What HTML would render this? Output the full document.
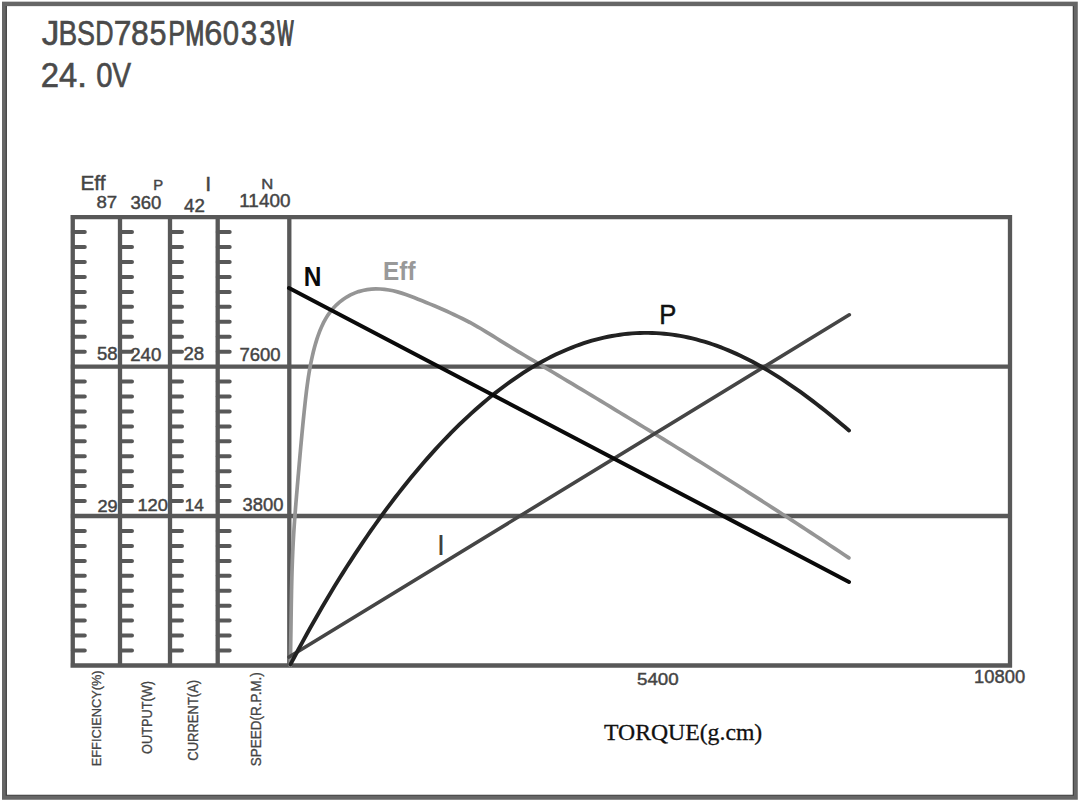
<!DOCTYPE html>
<html><head><meta charset="utf-8"><style>
html,body{margin:0;padding:0;background:#fff;}
body{width:1080px;height:805px;overflow:hidden;}
svg{display:block;font-family:"Liberation Sans",sans-serif;}
</style></head><body>
<svg width="1080" height="805" viewBox="0 0 1080 805">
<rect x="4.25" y="3.9" width="1071.3" height="793.6" fill="none" stroke="#666" stroke-width="4.5"/>
<path d="M6.3,6V795.3H1073.3V6" fill="none" stroke="#383838" stroke-width="1.1"/>
<path d="M72.8,232.1h12 M120.0,232.1h12 M170.0,232.1h12 M217.7,232.1h12 M72.8,247.1h12 M120.0,247.1h12 M170.0,247.1h12 M217.7,247.1h12 M72.8,262.0h12 M120.0,262.0h12 M170.0,262.0h12 M217.7,262.0h12 M72.8,277.0h12 M120.0,277.0h12 M170.0,277.0h12 M217.7,277.0h12 M72.8,291.9h12 M120.0,291.9h12 M170.0,291.9h12 M217.7,291.9h12 M72.8,306.8h12 M120.0,306.8h12 M170.0,306.8h12 M217.7,306.8h12 M72.8,321.8h12 M120.0,321.8h12 M170.0,321.8h12 M217.7,321.8h12 M72.8,336.7h12 M120.0,336.7h12 M170.0,336.7h12 M217.7,336.7h12 M72.8,351.7h12 M120.0,351.7h12 M170.0,351.7h12 M217.7,351.7h12 M72.8,381.5h12 M120.0,381.5h12 M170.0,381.5h12 M217.7,381.5h12 M72.8,396.5h12 M120.0,396.5h12 M170.0,396.5h12 M217.7,396.5h12 M72.8,411.4h12 M120.0,411.4h12 M170.0,411.4h12 M217.7,411.4h12 M72.8,426.4h12 M120.0,426.4h12 M170.0,426.4h12 M217.7,426.4h12 M72.8,441.3h12 M120.0,441.3h12 M170.0,441.3h12 M217.7,441.3h12 M72.8,456.2h12 M120.0,456.2h12 M170.0,456.2h12 M217.7,456.2h12 M72.8,471.2h12 M120.0,471.2h12 M170.0,471.2h12 M217.7,471.2h12 M72.8,486.1h12 M120.0,486.1h12 M170.0,486.1h12 M217.7,486.1h12 M72.8,501.1h12 M120.0,501.1h12 M170.0,501.1h12 M217.7,501.1h12 M72.8,531.0h12 M120.0,531.0h12 M170.0,531.0h12 M217.7,531.0h12 M72.8,545.9h12 M120.0,545.9h12 M170.0,545.9h12 M217.7,545.9h12 M72.8,560.9h12 M120.0,560.9h12 M170.0,560.9h12 M217.7,560.9h12 M72.8,575.8h12 M120.0,575.8h12 M170.0,575.8h12 M217.7,575.8h12 M72.8,590.8h12 M120.0,590.8h12 M170.0,590.8h12 M217.7,590.8h12 M72.8,605.7h12 M120.0,605.7h12 M170.0,605.7h12 M217.7,605.7h12 M72.8,620.6h12 M120.0,620.6h12 M170.0,620.6h12 M217.7,620.6h12 M72.8,635.6h12 M120.0,635.6h12 M170.0,635.6h12 M217.7,635.6h12 M72.8,650.5h12 M120.0,650.5h12 M170.0,650.5h12 M217.7,650.5h12" stroke="#585858" stroke-width="4" stroke-linecap="round" fill="none"/>
<path d="M70.5,217.2H1012 M70.5,366.6H1012 M70.5,516.0H1012 M70.5,665.5H1012 M72.75,215V667.5 M120.00,215V667.5 M170.00,215V667.5 M217.70,215V667.5 M289.30,215V667.5 M1010.00,215V667.5" stroke="#585858" stroke-width="4.3" fill="none"/>
<path d="M290.26,665.49 L290.37,661.12 L290.46,656.74 L290.55,652.36 L290.63,647.99 L290.70,643.61 L290.77,639.23 L290.84,634.85 L290.91,630.48 L290.97,626.10 L291.03,621.72 L291.09,617.34 L291.16,612.97 L291.22,608.59 L291.29,604.21 L291.37,599.84 L291.45,595.46 L291.53,591.08 L291.63,586.70 L291.73,582.33 L291.84,577.95 L291.96,573.57 L292.09,569.20 L292.24,564.82 L292.39,560.45 L292.57,556.07 L292.75,551.70 L292.96,547.33 L293.18,542.95 L293.42,538.58 L293.67,534.21 L293.95,529.84 L294.24,525.48 L294.54,521.11 L294.86,516.74 L295.19,512.38 L295.53,508.01 L295.88,503.65 L296.23,499.28 L296.60,494.92 L296.97,490.56 L297.34,486.20 L297.71,481.83 L298.08,477.47 L298.46,473.11 L298.84,468.75 L299.21,464.39 L299.59,460.03 L299.98,455.67 L300.36,451.30 L300.76,446.94 L301.15,442.58 L301.56,438.23 L301.96,433.87 L302.38,429.51 L302.80,425.15 L303.23,420.79 L303.67,416.44 L304.12,412.08 L304.58,407.73 L305.05,403.38 L305.53,399.03 L306.03,394.68 L306.56,390.33 L307.12,385.99 L307.71,381.65 L308.35,377.32 L309.04,373.00 L309.78,368.68 L310.58,364.38 L311.45,360.09 L312.39,355.81 L313.41,351.55 L314.51,347.32 L315.70,343.10 L316.98,338.92 L318.38,334.77 L319.92,330.67 L321.63,326.64 L323.51,322.69 L325.59,318.84 L327.90,315.12 L330.44,311.56 L333.24,308.19 L336.28,305.04 L339.54,302.12 L343.02,299.46 L346.68,297.06 L350.51,294.94 L354.49,293.12 L358.60,291.62 L362.82,290.45 L367.11,289.62 L371.46,289.11 L375.83,288.91 L380.21,288.99 L384.57,289.34 L388.91,289.95 L393.20,290.80 L397.44,291.88 L401.64,293.13 L405.79,294.52 L409.90,296.02 L413.99,297.58 L418.07,299.18 L422.13,300.80 L426.19,302.44 L430.24,304.11 L434.28,305.80 L438.31,307.52 L442.32,309.27 L446.32,311.04 L450.30,312.86 L454.27,314.71 L458.22,316.59 L462.16,318.52 L466.07,320.48 L469.96,322.49 L473.82,324.60 L477.66,326.78 L481.48,329.02 L485.27,331.30 L489.03,333.61 L492.77,335.94 L496.49,338.26 L500.19,340.58 L503.88,342.88 L507.56,345.15 L511.24,347.39 L514.91,349.61 L518.58,351.80 L520.00,352.63 L524.77,355.47 L529.53,358.31 L534.30,361.15 L539.07,363.99 L543.83,366.83 L548.60,369.68 L553.37,372.53 L558.13,375.38 L562.90,378.23 L567.67,381.09 L572.43,383.95 L577.20,386.81 L581.97,389.67 L586.73,392.54 L591.50,395.41 L596.27,398.29 L601.03,401.16 L605.80,404.04 L610.57,406.93 L615.33,409.82 L620.10,412.71 L624.87,415.61 L629.63,418.51 L634.40,421.41 L639.17,424.32 L643.93,427.23 L648.70,430.15 L653.47,433.07 L658.23,435.99 L663.00,438.92 L667.77,441.86 L672.53,444.80 L677.30,447.74 L682.07,450.69 L686.83,453.65 L691.60,456.61 L696.37,459.57 L701.13,462.54 L705.90,465.52 L710.67,468.50 L715.43,471.49 L720.20,474.48 L724.97,477.48 L729.73,480.49 L734.50,483.50 L739.27,486.52 L744.03,489.54 L748.80,492.57 L753.57,495.61 L758.33,498.65 L763.10,501.71 L767.87,504.76 L772.63,507.83 L777.40,510.90 L782.17,513.98 L786.93,517.07 L791.70,520.16 L796.47,523.26 L801.23,526.37 L806.00,529.48 L810.77,532.61 L815.53,535.74 L820.30,538.88 L825.07,542.03 L829.83,545.18 L834.60,548.35 L839.37,551.52 L844.13,554.70 L848.90,557.89" stroke="#959595" stroke-width="3.7" fill="none" stroke-linecap="round"/>
<path d="M289,657L849.3,314.8" stroke="#454545" stroke-width="3.6" fill="none" stroke-linecap="round"/>
<path d="M290.50,664.42 L294.52,656.78 L298.54,649.25 L302.55,641.83 L306.57,634.51 L310.59,627.29 L314.61,620.18 L318.63,613.17 L322.64,606.26 L326.66,599.44 L330.68,592.73 L334.70,586.11 L338.72,579.58 L342.73,573.15 L346.75,566.81 L350.77,560.57 L354.79,554.42 L358.81,548.35 L362.82,542.38 L366.84,536.50 L370.86,530.71 L374.88,525.00 L378.90,519.38 L382.91,513.85 L386.93,508.40 L390.95,503.05 L394.97,497.77 L398.99,492.58 L403.00,487.48 L407.02,482.46 L411.04,477.52 L415.06,472.67 L419.08,467.90 L423.09,463.21 L427.11,458.61 L431.13,454.09 L435.15,449.65 L439.17,445.29 L443.18,441.01 L447.20,436.82 L451.22,432.71 L455.24,428.68 L459.26,424.73 L463.27,420.86 L467.29,417.08 L471.31,413.38 L475.33,409.76 L479.35,406.22 L483.36,402.76 L487.38,399.38 L491.40,396.09 L495.42,392.87 L499.44,389.74 L503.45,386.70 L507.47,383.73 L511.49,380.85 L515.51,378.05 L519.53,375.33 L523.54,372.69 L527.56,370.14 L531.58,367.67 L535.60,365.29 L539.62,362.98 L543.63,360.76 L547.65,358.63 L551.67,356.58 L555.69,354.61 L559.71,352.73 L563.72,350.93 L567.74,349.22 L571.76,347.59 L575.78,346.04 L579.79,344.59 L583.81,343.21 L587.83,341.92 L591.85,340.72 L595.87,339.60 L599.88,338.57 L603.90,337.62 L607.92,336.76 L611.94,335.99 L615.96,335.30 L619.97,334.70 L623.99,334.18 L628.01,333.75 L632.03,333.40 L636.05,333.14 L640.06,332.97 L644.08,332.88 L648.10,332.87 L652.12,332.96 L656.14,333.12 L660.15,333.38 L664.17,333.71 L668.19,334.13 L672.21,334.64 L676.23,335.23 L680.24,335.91 L684.26,336.66 L688.28,337.50 L692.30,338.43 L696.32,339.43 L700.33,340.52 L704.35,341.69 L708.37,342.94 L712.39,344.27 L716.41,345.68 L720.42,347.17 L724.44,348.74 L728.46,350.38 L732.48,352.10 L736.50,353.90 L740.51,355.78 L744.53,357.72 L748.55,359.74 L752.57,361.84 L756.59,364.00 L760.60,366.24 L764.62,368.55 L768.64,370.92 L772.66,373.36 L776.68,375.87 L780.69,378.44 L784.71,381.07 L788.73,383.77 L792.75,386.53 L796.77,389.34 L800.78,392.21 L804.80,395.14 L808.82,398.13 L812.84,401.16 L816.86,404.25 L820.87,407.38 L824.89,410.56 L828.91,413.79 L832.93,417.06 L836.95,420.37 L840.96,423.72 L844.98,427.11 L849.00,430.53" stroke="#222" stroke-width="3.9" fill="none" stroke-linecap="round"/>
<path d="M289,288L849,582" stroke="#0a0a0a" stroke-width="4.0" fill="none" stroke-linecap="round"/>
<text transform="translate(41.73,45.4) scale(0.989,1)" font-size="35.76" fill="#4a4a4a" stroke="#4a4a4a" stroke-width="0.6" vector-effect="non-scaling-stroke" font-family="Liberation Sans">J</text>
<text transform="translate(58.50,45.4) scale(0.783,1)" font-size="35.76" fill="#4a4a4a" stroke="#4a4a4a" stroke-width="0.6" vector-effect="non-scaling-stroke" font-family="Liberation Sans">B</text>
<text transform="translate(77.06,45.4) scale(0.754,1)" font-size="35.76" fill="#4a4a4a" stroke="#4a4a4a" stroke-width="0.6" vector-effect="non-scaling-stroke" font-family="Liberation Sans">S</text>
<text transform="translate(95.22,45.4) scale(0.709,1)" font-size="35.76" fill="#4a4a4a" stroke="#4a4a4a" stroke-width="0.6" vector-effect="non-scaling-stroke" font-family="Liberation Sans">D</text>
<text transform="translate(113.67,45.4) scale(0.891,1)" font-size="35.76" fill="#4a4a4a" stroke="#4a4a4a" stroke-width="0.6" vector-effect="non-scaling-stroke" font-family="Liberation Sans">7</text>
<text transform="translate(130.93,45.4) scale(0.893,1)" font-size="35.76" fill="#4a4a4a" stroke="#4a4a4a" stroke-width="0.6" vector-effect="non-scaling-stroke" font-family="Liberation Sans">8</text>
<text transform="translate(149.58,45.4) scale(0.856,1)" font-size="35.76" fill="#4a4a4a" stroke="#4a4a4a" stroke-width="0.6" vector-effect="non-scaling-stroke" font-family="Liberation Sans">5</text>
<text transform="translate(168.22,45.4) scale(0.710,1)" font-size="35.76" fill="#4a4a4a" stroke="#4a4a4a" stroke-width="0.6" vector-effect="non-scaling-stroke" font-family="Liberation Sans">P</text>
<text transform="translate(185.46,45.4) scale(0.627,1)" font-size="35.76" fill="#4a4a4a" stroke="#4a4a4a" stroke-width="1.2" vector-effect="non-scaling-stroke" font-family="Liberation Sans">M</text>
<text transform="translate(204.14,45.4) scale(0.910,1)" font-size="35.76" fill="#4a4a4a" stroke="#4a4a4a" stroke-width="0.6" vector-effect="non-scaling-stroke" font-family="Liberation Sans">6</text>
<text transform="translate(222.66,45.4) scale(0.819,1)" font-size="35.76" fill="#4a4a4a" stroke="#4a4a4a" stroke-width="0.6" vector-effect="non-scaling-stroke" font-family="Liberation Sans">0</text>
<text transform="translate(240.68,45.4) scale(0.826,1)" font-size="35.76" fill="#4a4a4a" stroke="#4a4a4a" stroke-width="0.6" vector-effect="non-scaling-stroke" font-family="Liberation Sans">3</text>
<text transform="translate(259.18,45.4) scale(0.826,1)" font-size="35.76" fill="#4a4a4a" stroke="#4a4a4a" stroke-width="0.6" vector-effect="non-scaling-stroke" font-family="Liberation Sans">3</text>
<text transform="translate(277.21,45.4) scale(0.479,1)" font-size="35.76" fill="#4a4a4a" stroke="#4a4a4a" stroke-width="1.5" vector-effect="non-scaling-stroke" font-family="Liberation Sans">W</text>
<text transform="translate(40.66,87.0) scale(0.920,1)" font-size="35.76" fill="#4a4a4a" stroke="#4a4a4a" stroke-width="0.6" vector-effect="non-scaling-stroke" font-family="Liberation Sans">2</text>
<text transform="translate(59.05,87.0) scale(0.916,1)" font-size="35.76" fill="#4a4a4a" stroke="#4a4a4a" stroke-width="0.6" vector-effect="non-scaling-stroke" font-family="Liberation Sans">4</text>
<text transform="translate(76.98,87.0) scale(1.020,1)" font-size="35.76" fill="#4a4a4a" stroke="#4a4a4a" stroke-width="0.6" vector-effect="non-scaling-stroke" font-family="Liberation Sans">.</text>
<text transform="translate(96.16,87.0) scale(0.819,1)" font-size="35.76" fill="#4a4a4a" stroke="#4a4a4a" stroke-width="0.6" vector-effect="non-scaling-stroke" font-family="Liberation Sans">0</text>
<text transform="translate(112.16,87.0) scale(0.788,1)" font-size="35.76" fill="#4a4a4a" stroke="#4a4a4a" stroke-width="0.6" vector-effect="non-scaling-stroke" font-family="Liberation Sans">V</text>
<text transform="translate(80.49,189.50) scale(1.077,1)" font-size="19.34" fill="#444" font-family="Liberation Sans" font-weight="normal" stroke="#444" stroke-width="0.45" vector-effect="non-scaling-stroke">Eff</text>
<text transform="translate(153.18,189.50) scale(1.012,1)" font-size="14.68" fill="#444" font-family="Liberation Sans" font-weight="normal" stroke="#444" stroke-width="0.45" vector-effect="non-scaling-stroke">P</text>
<text transform="translate(205.24,190.50) scale(1.092,1)" font-size="19.48" fill="#444" font-family="Liberation Sans" font-weight="normal" stroke="#444" stroke-width="0.45" vector-effect="non-scaling-stroke">I</text>
<text transform="translate(261.13,189.40) scale(1.158,1)" font-size="14.39" fill="#444" font-family="Liberation Sans" font-weight="normal" stroke="#444" stroke-width="0.45" vector-effect="non-scaling-stroke">N</text>
<text transform="translate(96.38,207.63) scale(1.074,1)" font-size="17.37" fill="#444" font-family="Liberation Sans" font-weight="normal" stroke="#444" stroke-width="0.45" vector-effect="non-scaling-stroke">87</text>
<text transform="translate(130.40,209.32) scale(1.017,1)" font-size="18.22" fill="#444" font-family="Liberation Sans" font-weight="normal" stroke="#444" stroke-width="0.45" vector-effect="non-scaling-stroke">360</text>
<text transform="translate(183.99,211.70) scale(1.064,1)" font-size="17.62" fill="#444" font-family="Liberation Sans" font-weight="normal" stroke="#444" stroke-width="0.45" vector-effect="non-scaling-stroke">42</text>
<text transform="translate(239.26,207.02) scale(1.062,1)" font-size="17.80" fill="#444" font-family="Liberation Sans" font-weight="normal" stroke="#444" stroke-width="0.45" vector-effect="non-scaling-stroke">11400</text>
<text transform="translate(96.96,360.41) scale(0.977,1)" font-size="18.93" fill="#444" font-family="Liberation Sans" font-weight="normal" stroke="#444" stroke-width="0.45" vector-effect="non-scaling-stroke">58</text>
<text transform="translate(130.17,360.62) scale(1.058,1)" font-size="17.66" fill="#444" font-family="Liberation Sans" font-weight="normal" stroke="#444" stroke-width="0.45" vector-effect="non-scaling-stroke">240</text>
<text transform="translate(183.47,360.42) scale(1.024,1)" font-size="18.22" fill="#444" font-family="Liberation Sans" font-weight="normal" stroke="#444" stroke-width="0.45" vector-effect="non-scaling-stroke">28</text>
<text transform="translate(239.54,361.22) scale(1.021,1)" font-size="18.08" fill="#444" font-family="Liberation Sans" font-weight="normal" stroke="#444" stroke-width="0.45" vector-effect="non-scaling-stroke">7600</text>
<text transform="translate(97.39,511.53) scale(1.044,1)" font-size="17.37" fill="#444" font-family="Liberation Sans" font-weight="normal" stroke="#444" stroke-width="0.45" vector-effect="non-scaling-stroke">29</text>
<text transform="translate(137.41,511.03) scale(1.100,1)" font-size="16.67" fill="#444" font-family="Liberation Sans" font-weight="normal" stroke="#444" stroke-width="0.45" vector-effect="non-scaling-stroke">120</text>
<text transform="translate(184.79,510.60) scale(1.003,1)" font-size="17.15" fill="#444" font-family="Liberation Sans" font-weight="normal" stroke="#444" stroke-width="0.45" vector-effect="non-scaling-stroke">14</text>
<text transform="translate(242.60,511.02) scale(1.050,1)" font-size="17.51" fill="#444" font-family="Liberation Sans" font-weight="normal" stroke="#444" stroke-width="0.45" vector-effect="non-scaling-stroke">3800</text>
<text transform="translate(636.95,685.33) scale(1.108,1)" font-size="16.95" fill="#444" font-family="Liberation Sans" font-weight="normal" stroke="#444" stroke-width="0.45" vector-effect="non-scaling-stroke">5400</text>
<text transform="translate(974.10,683.02) scale(1.049,1)" font-size="17.51" fill="#444" font-family="Liberation Sans" font-weight="normal" stroke="#444" stroke-width="0.45" vector-effect="non-scaling-stroke">10800</text>
<text transform="translate(604.0,739.5) scale(1.014,1)" font-size="23.4" fill="#111" font-family="Liberation Serif" stroke="#111" stroke-width="0.3">TORQUE(g.cm)</text>
<text transform="translate(303.78,286.30) scale(0.896,1)" font-size="27.33" fill="#0a0a0a" font-family="Liberation Sans" font-weight="bold">N</text>
<text transform="translate(383.10,279.70) scale(0.951,1)" font-size="25.55" fill="#999" font-family="Liberation Sans" font-weight="bold">Eff</text>
<text transform="translate(659.30,324.10) scale(0.946,1)" font-size="27.03" fill="#111" font-family="Liberation Sans" font-weight="normal" stroke="#111" stroke-width="0.5" vector-effect="non-scaling-stroke">P</text>
<text transform="translate(438.22,555.20) scale(0.679,1)" font-size="28.63" fill="#404040" font-family="Liberation Sans" font-weight="bold">I</text>
<g transform="translate(101.00,765.20) rotate(-90)"><text transform="translate(-1.05,0) scale(0.937,1)" font-size="13.66" fill="#444" stroke="#444" stroke-width="0.3" vector-effect="non-scaling-stroke" font-family="Liberation Sans">EFFICIENCY(%)</text></g>
<g transform="translate(151.60,753.30) rotate(-90)"><text transform="translate(-0.61,0) scale(0.894,1)" font-size="14.24" fill="#444" stroke="#444" stroke-width="0.3" vector-effect="non-scaling-stroke" font-family="Liberation Sans">OUTPUT(W)</text></g>
<g transform="translate(198.00,760.10) rotate(-90)"><text transform="translate(-0.65,0) scale(0.915,1)" font-size="14.24" fill="#444" stroke="#444" stroke-width="0.3" vector-effect="non-scaling-stroke" font-family="Liberation Sans">CURRENT(A)</text></g>
<g transform="translate(260.80,765.60) rotate(-90)"><text transform="translate(-0.62,0) scale(0.946,1)" font-size="14.24" fill="#444" stroke="#444" stroke-width="0.3" vector-effect="non-scaling-stroke" font-family="Liberation Sans">SPEED(R.P.M.)</text></g>
</svg>
</body></html>
